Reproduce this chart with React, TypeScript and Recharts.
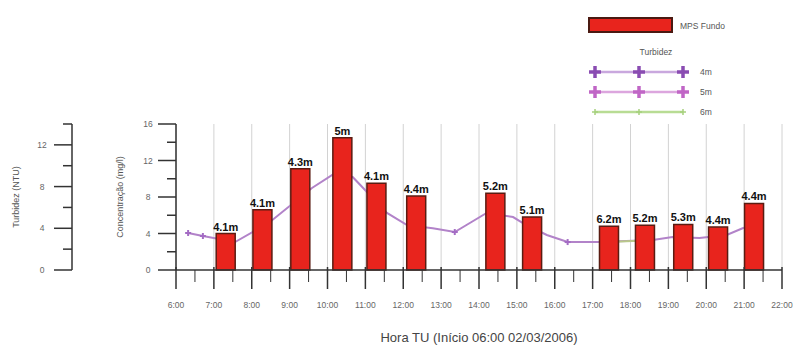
import React from 'react';
import { ComposedChart, Bar, Line, XAxis, YAxis, CartesianGrid, LabelList, Legend } from 'recharts';

// MPS Fundo (mg/l) bars, hour of day + depth label
const barHours = [7.3, 8.27, 9.27, 10.38, 11.28, 12.33, 14.42, 15.39, 17.42, 18.37, 19.38, 20.3, 21.25];
const mpsFundo = [4.0, 6.6, 11.1, 14.5, 9.5, 8.1, 8.4, 5.8, 4.8, 4.9, 5.0, 4.7, 7.3];
const depthLabels = ['4.1m', '4.1m', '4.3m', '5m', '4.1m', '4.4m', '5.2m', '5.1m', '6.2m', '5.2m', '5.3m', '4.4m', '4.4m'];

// Turbidez (NTU)
const turbHours = [6.32, 6.71, 7.56, 8.48, 9.59, 10.25, 10.67, 11.57, 12.1, 12.78, 13.36, 14.2, 14.9, 15.16, 15.79, 16.34, 17.19, 18.59, 19.11, 19.82, 20.54, 20.96, 21.3];
const turb5m = [3.55, 3.26, 2.68, 4.6, 7.86, 9.4, 8.9, 5.47, 4.3, 4.0, 3.64, 5.47, 5.08, 4.5, 3.36, 2.68, 2.68, 2.88, 3.16, 3.07, 3.36, 4.0, 4.4];
const markedHours = [6.32, 6.71, 13.36, 16.34];
const turb6mHours = [17.19, 18.59];
const turb6m = [2.66, 2.86];

const hourTicks = [6, 6.5, 7, 7.5, 8, 8.5, 9, 9.5, 10, 10.5, 11, 11.5, 12, 12.5, 13, 13.5, 14, 14.5, 15, 15.5, 16, 16.5, 17, 17.5, 18, 18.5, 19, 19.5, 20, 20.5, 21, 21.5, 22];
const gridHours = [6, 7, 8, 9, 10, 11, 12, 13, 14, 15, 16, 17, 18, 19, 20, 21, 22];
const concTicks = [0, 2, 4, 6, 8, 10, 12, 14, 16];
const turbTicks = [0, 2, 4, 6, 8, 10, 12, 14];

const barRows = barHours.map((h, i) => ({ hour: h, mps: mpsFundo[i], depth: depthLabels[i] }));
const turb5Rows = turbHours.map((h, i) => ({ hour: h, t5: turb5m[i], mark: markedHours.includes(h) }));
const turb6Rows = turb6mHours.map((h, i) => ({ hour: h, t6: turb6m[i] }));

const W = 797;
const H = 347;
const AXIS = '#333';
const TXT = '#666';

const HourTick = (props: any) => {
  const { x, y, payload } = props;
  const major = Number.isInteger(payload.value);
  return (
    <g>
      <line x1={x} x2={x} y1={major ? y - 3 : y} y2={major ? y + 19 : y + 12} stroke={AXIS} strokeWidth={major ? 1.5 : 1} />
      {major && (
        <text x={x} y={y + 38} textAnchor="middle" fontSize={8.5} fill={TXT}>{`${payload.value}:00`}</text>
      )}
    </g>
  );
};

const makeYTick = (labelGap: number) => (props: any) => {
  const { x, y, payload } = props;
  const major = payload.value % 4 === 0;
  return (
    <g>
      <line x1={major ? x - 18 : x - 9} x2={x} y1={y} y2={y} stroke={AXIS} strokeWidth={1.5} />
      {major && (
        <text x={x - labelGap} y={y + 3} textAnchor="middle" fontSize={8.5} fill={TXT}>{payload.value}</text>
      )}
    </g>
  );
};

const vTitle = (dx: number) => (props: any) => {
  const { viewBox, value } = props;
  const cx = viewBox.x + dx;
  const cy = viewBox.y + viewBox.height / 2;
  return (
    <text x={cx} y={cy} transform={`rotate(-90 ${cx} ${cy})`} textAnchor="middle" dominantBaseline="central" fontSize={9} fill="#555">
      {value}
    </text>
  );
};

const xTitle = (props: any) => {
  const { viewBox, value } = props;
  return (
    <text x={viewBox.x + viewBox.width / 2} y={viewBox.y + 72} textAnchor="middle" fontSize={13} fill="#444">
      {value}
    </text>
  );
};

const TurbDot = (props: any) => {
  const { cx, cy, payload, index } = props;
  if (!payload.mark || cx == null) return <g key={`d-${index}`} />;
  return (
    <g key={`d-${index}`} stroke="#a46cc4" strokeWidth={2}>
      <line x1={cx - 3} x2={cx + 3} y1={cy} y2={cy} />
      <line x1={cx} x2={cx} y1={cy - 3} y2={cy + 3} />
    </g>
  );
};

const Plus = ({ x, y, c, s }: { x: number; y: number; c: string; s: number }) => (
  <g stroke={c} strokeWidth={s > 4 ? 3.5 : 1.5}>
    <line x1={x - s} x2={x + s} y1={y} y2={y} />
    <line x1={x} x2={x} y1={y - s} y2={y + s} />
  </g>
);

const legendRows = [
  { name: '4m', color: '#8a4cb2', line: '#c9a8de', size: 6 },
  { name: '5m', color: '#c066c6', line: '#dca6de', size: 6 },
  { name: '6m', color: '#a6d07c', line: '#b8dc94', size: 3 },
];

const renderLegend = () => (
  <svg width={210} height={120} style={{ display: 'block' }}>
    <rect x={9} y={18} width={83} height={14} fill="#e8241d" stroke="#4a1a12" strokeWidth={2} />
    <text x={100} y={29} fontSize={8.5} fill="#555">MPS Fundo</text>
    <text x={76} y={55} fontSize={8.5} fill="#555" textAnchor="middle">Turbidez</text>
    {legendRows.map((r, i) => {
      const y = 72 + i * 20;
      return (
        <g key={r.name}>
          <line x1={15} x2={103} y1={y} y2={y} stroke={r.line} strokeWidth={2.5} />
          <Plus x={15} y={y} c={r.color} s={r.size} />
          <Plus x={59} y={y} c={r.color} s={r.size} />
          <Plus x={103} y={y} c={r.color} s={r.size} />
          <text x={120} y={y + 3} fontSize={8.5} fill="#555">{r.name}</text>
        </g>
      );
    })}
  </svg>
);

// lower layer: grid + turbidity lines (drawn behind the bars)
const TurbLayer = () => (
  <ComposedChart width={W} height={H} margin={{ top: 124, right: 15, bottom: 77, left: 176 }}>
    <CartesianGrid horizontal={false} verticalValues={gridHours} stroke="#d2d2d2" strokeWidth={1} />
    <XAxis dataKey="hour" type="number" domain={[6, 22]} allowDataOverflow hide />
    <YAxis yAxisId="turb" domain={[0, 14]} allowDataOverflow hide />
    <Line
      yAxisId="turb"
      data={turb5Rows}
      dataKey="t5"
      stroke="#b283c9"
      strokeWidth={2}
      dot={TurbDot}
      activeDot={false}
      isAnimationActive={false}
    />
    <Line
      yAxisId="turb"
      data={turb6Rows}
      dataKey="t6"
      stroke="#b9c98a"
      strokeWidth={2}
      dot={false}
      activeDot={false}
      isAnimationActive={false}
    />
  </ComposedChart>
);

// upper layer: axes, bars, labels, legend
const BarLayer = () => (
  <ComposedChart width={W} height={H} data={barRows} margin={{ top: 4, right: 15, bottom: 0, left: 0 }}>
    <Legend
      verticalAlign="top"
      align="left"
      content={renderLegend}
      wrapperStyle={{ top: 0, left: 580, width: 210, height: 120 }}
    />
    <XAxis
      dataKey="hour"
      type="number"
      domain={[6, 22]}
      ticks={hourTicks}
      interval={0}
      height={77}
      tickSize={0}
      tickMargin={0}
      tick={<HourTick />}
      stroke={AXIS}
      strokeWidth={1.5}
      allowDataOverflow
      label={{ value: 'Hora TU (Início 06:00 02/03/2006)', content: xTitle }}
    />
    <YAxis
      yAxisId="conc"
      width={104}
      domain={[0, 16]}
      ticks={concTicks}
      interval={0}
      tickSize={0}
      tickMargin={0}
      tick={makeYTick(28)}
      stroke={AXIS}
      strokeWidth={1.5}
      label={{ value: 'Concentração (mg/l)', content: vTitle(48) }}
    />
    <YAxis
      yAxisId="turb"
      width={72}
      type="number"
      domain={[0, 14]}
      allowDataOverflow
      ticks={turbTicks}
      interval={0}
      tickSize={0}
      tickMargin={0}
      tick={makeYTick(30)}
      stroke={AXIS}
      strokeWidth={1.5}
      label={{ value: 'Turbidez (NTU)', content: vTitle(16) }}
    />
    <Bar
      yAxisId="conc"
      dataKey="mps"
      barSize={19}
      fill="#e8241d"
      stroke="#5a1c12"
      strokeWidth={1.5}
      isAnimationActive={false}
    >
      <LabelList dataKey="depth" position="top" offset={3} fontSize={11} fontWeight="bold" fill="#111" />
    </Bar>
  </ComposedChart>
);

export default function App() {
  return (
    <div style={{ position: 'relative', width: W, height: H, background: '#fff', fontFamily: '"Liberation Sans", Arial, sans-serif' }}>
      <style>{'body{margin:0}'}</style>
      <div style={{ position: 'absolute', left: 0, top: 0 }}>
        <TurbLayer />
      </div>
      <div style={{ position: 'absolute', left: 0, top: 0 }}>
        <BarLayer />
      </div>
    </div>
  );
}
